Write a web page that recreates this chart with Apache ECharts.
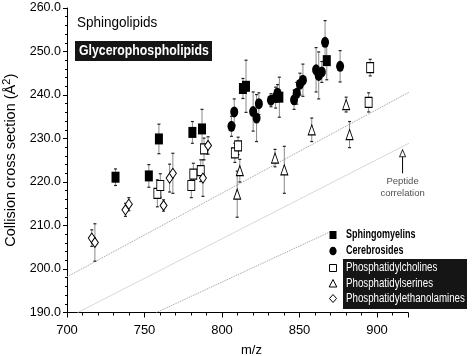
<!DOCTYPE html>
<html>
<head>
<meta charset="utf-8">
<script src="https://cdn.jsdelivr.net/npm/echarts@6/dist/echarts.min.js"></script>
<style>
html,body{margin:0;padding:0;background:#fff;}
#chart{width:475px;height:356px;}
</style>
</head>
<body>
<div id="chart"></div>
<script>
// [m/z, CCS, error]
const sphingomyelins = [
  [731.3, 221.1, 1.9], [752.8, 221.4, 2.6], [759.3, 229.9, 3.4], [780.9, 231.4, 2.5],
  [787.1, 232.2, 4.5], [813.5, 241.5, 2.3], [815.5, 242.0, 6.0], [837.0, 239.5, 4.6],
  [867.6, 247.9, 4.4]
];
const cerebrosides = [
  [806.1, 232.8, 2.3], [807.9, 236.1, 3.0], [820.1, 236.2, 4.5], [822.3, 234.7, 5.4],
  [823.8, 238.0, 2.5], [831.6, 238.8, 1.5], [834.6, 239.4, 2.4], [835.8, 240.4, 2.0],
  [846.5, 238.9, 2.2], [848.2, 240.4, 2.5], [850.3, 242.5, 2.5], [852.2, 243.4, 3.7],
  [860.7, 245.8, 5.1], [862.4, 244.5, 5.4], [864.4, 245.3, 2.4], [866.5, 252.1, 5.0],
  [876.2, 246.6, 3.6]
];
const phosphatidylcholines = [
  [758.3, 217.4, 3.1], [760.2, 219.2, 2.7], [780.2, 219.2, 2.8], [781.5, 221.8, 2.5],
  [786.3, 222.6, 2.5], [788.4, 227.6, 2.5], [808.3, 226.7, 2.2], [810.4, 228.3, 2.0],
  [894.6, 238.3, 2.2], [895.6, 246.3, 1.9]
];
const phosphatidylserines = [
  [809.8, 217.2, 5.3], [811.5, 222.6, 2.6], [834.2, 225.5, 2.0], [840.2, 222.8, 5.4],
  [857.9, 232.0, 2.7], [880.1, 237.8, 1.7], [882.3, 230.9, 3.0]
];
const phosphatidylethanolamines = [
  [716.0, 207.1, 1.9], [718.0, 206.1, 4.3], [737.7, 213.6, 1.5], [739.9, 214.9, 1.5],
  [762.3, 214.6, 1.3], [766.2, 220.9, 3.2], [768.3, 222.0, 4.6], [787.7, 220.9, 4.2],
  [791.0, 228.4, 2.0]
];
// reference correlation lines
const upperDotted = [[700, 198.2], [923, 241.1]];
const peptideLine = [[706.9, 190], [922.2, 229.2]];
const lowerDotted = [[757.7, 190], [869.5, 208.5]];
// annotation arrow
const arrowX = 916.5;
const arrowStem = [[arrowX, 222.0], [arrowX, 225.9]];
const arrowHead = [[arrowX, 226.6]];

const xTicks = { min: 700, max: 920, interval: 50 };
const yTicks = { min: 190, max: 260, interval: 10 };

const legendNames = ['Sphingomyelins', 'Cerebrosides', 'Phosphatidylcholines',
  'Phosphatidylserines', 'Phosphatidylethanolamines'];

const FONT = 'Liberation Sans, Arial, sans-serif';

function errData(arr) { return arr.map(d => [d[0], d[1] - d[2], d[1] + d[2]]); }
function errSeries(arr) {
  return {
    type: 'custom', silent: true, z: 1,
    renderItem: function (params, api) {
      const x = api.value(0);
      const lo = api.coord([x, api.value(1)]);
      const hi = api.coord([x, api.value(2)]);
      const c = 1.5;
      return { type: 'group', children: [
        { type: 'line', shape: { x1: lo[0], y1: lo[1], x2: hi[0], y2: hi[1] }, style: { stroke: '#8a8a8a', lineWidth: 1 } },
        { type: 'line', shape: { x1: hi[0] - c, y1: hi[1], x2: hi[0] + c, y2: hi[1] }, style: { stroke: '#222', lineWidth: 1.2 } },
        { type: 'line', shape: { x1: lo[0] - c, y1: lo[1], x2: lo[0] + c, y2: lo[1] }, style: { stroke: '#222', lineWidth: 1.2 } }
      ]};
    },
    encode: { x: 0, y: [1, 2] },
    data: errData(arr)
  };
}
function scatter(name, arr, symbol, size, hollow) {
  return {
    name: name, type: 'scatter', z: 3, symbol: symbol, symbolSize: size,
    itemStyle: hollow ? { color: '#fff', borderColor: '#000', borderWidth: 1, opacity: 1 }
                      : { color: '#000', borderColor: '#000', borderWidth: 0, opacity: 1 },
    emphasis: { disabled: true },
    data: arr.map(d => [d[0], d[1]])
  };
}
function refLine(data, type, color) {
  return { type: 'line', data: data, showSymbol: false, symbol: 'none', silent: true, clip: false, z: 0,
    lineStyle: { type: type, color: color, width: 1 } };
}

// legend drawn as graphics (condensed text)
const LX = 333;         // icon centre x
const TX = 346;         // text left
const legY = [235, 251, 268, 283.5, 298.5];
const blackStyle = { fill: '#000' };
const hollowStyle = { fill: '#fff', stroke: '#000', lineWidth: 1 };
const legendGraphics = [
  { type: 'rect', x: 343, y: 259, z: 1, shape: { width: 124, height: 50 }, style: { fill: '#151515' } },
  { type: 'rect', z: 5, shape: { x: LX - 3.5, y: legY[0] - 4, width: 7, height: 8 }, style: blackStyle },
  { type: 'ellipse', z: 5, shape: { cx: LX, cy: legY[1], rx: 3.6, ry: 4.3 }, style: blackStyle },
  { type: 'rect', z: 5, shape: { x: LX - 3.5, y: legY[2] - 3.5, width: 7, height: 7 }, style: hollowStyle },
  { type: 'polygon', z: 5, shape: { points: [[LX, legY[3] - 4], [LX + 3.8, legY[3] + 3.5], [LX - 3.8, legY[3] + 3.5]] }, style: hollowStyle },
  { type: 'polygon', z: 5, shape: { points: [[LX, legY[4] - 4], [LX + 3.5, legY[4]], [LX, legY[4] + 4], [LX - 3.5, legY[4]]] }, style: hollowStyle }
];
legendNames.forEach(function (n, i) {
  const top2 = i < 2;
  legendGraphics.push({
    type: 'text', x: TX, y: legY[i], z: 6, scaleX: top2 ? 0.75 : 0.81,
    style: { x: 0, y: 0, text: n, verticalAlign: 'middle', fill: top2 ? '#000' : '#fff',
      font: (top2 ? 'bold ' : '') + '12px ' + FONT }
  });
});

const chart = echarts.init(document.getElementById('chart'), null, { renderer: 'canvas' });
chart.setOption({
  animation: false,
  backgroundColor: '#fff',
  textStyle: { fontFamily: FONT },
  grid: { left: 67, right: 67, top: 8, bottom: 43.5, containLabel: false, outerBoundsMode: 'none' },
  xAxis: {
    type: 'value', min: xTicks.min, max: xTicks.max, interval: xTicks.interval,
    name: 'm/z', nameLocation: 'middle', nameGap: 31,
    nameTextStyle: { fontSize: 13, color: '#000', fontFamily: FONT, padding: [0, 0, 0, 28] },
    axisLine: { lineStyle: { color: '#000', width: 1 } },
    axisTick: { show: true, length: 5, lineStyle: { color: '#000' } },
    minorTick: { show: true, splitNumber: 5, length: 3, lineStyle: { color: '#000' } },
    splitLine: { show: false },
    axisLabel: { fontSize: 13, color: '#000', margin: 11, fontFamily: FONT,
      formatter: v => (v % 50 === 0 ? String(v) : '') }
  },
  yAxis: {
    type: 'value', min: yTicks.min, max: yTicks.max, interval: yTicks.interval,
    name: 'Collision cross section (Å{sup|2})', nameLocation: 'middle', nameGap: 46,
    nameTextStyle: { fontSize: 14.5, color: '#000', fontFamily: FONT,
      rich: { sup: { fontSize: 11, verticalAlign: 'top', padding: [0, 0, 8, 0], fontFamily: FONT } } },
    axisLine: { show: true, lineStyle: { color: '#000', width: 1 } },
    axisTick: { show: true, length: 4, lineStyle: { color: '#000' } },
    minorTick: { show: true, splitNumber: 5, length: 2, lineStyle: { color: '#000' } },
    splitLine: { show: false },
    axisLabel: { fontSize: 12.5, color: '#000', margin: 6, fontFamily: FONT,
      formatter: v => v.toFixed(1) }
  },
  graphic: [
    { type: 'text', x: 77, y: 23, z: 5, scaleX: 0.9,
      style: { x: 0, y: 0, text: 'Sphingolipids', fill: '#000', verticalAlign: 'middle', font: '15px ' + FONT } },
    { type: 'rect', x: 75, y: 41, z: 4, shape: { width: 137, height: 20 }, style: { fill: '#151515' } },
    { type: 'text', x: 79, y: 51, z: 5, scaleX: 0.82,
      style: { x: 0, y: 0, text: 'Glycerophospholipids', fill: '#fff', verticalAlign: 'middle', font: 'bold 15px ' + FONT } }
  ].concat(legendGraphics),
  series: [
    refLine(upperDotted, 'dotted', '#9a9a9a'),
    refLine(peptideLine, 'solid', '#d8d8d8'),
    refLine(lowerDotted, 'dotted', '#9a9a9a'),
    { type: 'line', data: arrowStem, symbol: 'none', silent: true, z: 2,
      lineStyle: { color: '#000', width: 1 } },
    { type: 'scatter', data: arrowHead, symbol: 'triangle', symbolSize: [6, 7], silent: true, z: 2,
      itemStyle: { color: '#fff', borderColor: '#000', borderWidth: 1 } },
    { type: 'scatter', data: [arrowStem[0]], symbol: 'circle', symbolSize: 0.1, silent: true, z: 2,
      itemStyle: { color: 'rgba(0,0,0,0)' },
      label: { show: true, position: 'bottom', distance: 2, formatter: 'Peptide\ncorrelation',
        fontSize: 9.5, lineHeight: 12, color: '#222', fontFamily: FONT, align: 'center' } },
    errSeries(sphingomyelins),
    errSeries(cerebrosides),
    errSeries(phosphatidylcholines),
    errSeries(phosphatidylserines),
    errSeries(phosphatidylethanolamines),
    scatter(legendNames[0], sphingomyelins, 'rect', [8, 11], false),
    scatter(legendNames[1], cerebrosides, 'circle', [8, 11], false),
    scatter(legendNames[2], phosphatidylcholines, 'rect', [7, 10], true),
    scatter(legendNames[3], phosphatidylserines, 'triangle', [7, 10], true),
    scatter(legendNames[4], phosphatidylethanolamines, 'diamond', [7, 10], true)
  ]
});
</script>
</body>
</html>
